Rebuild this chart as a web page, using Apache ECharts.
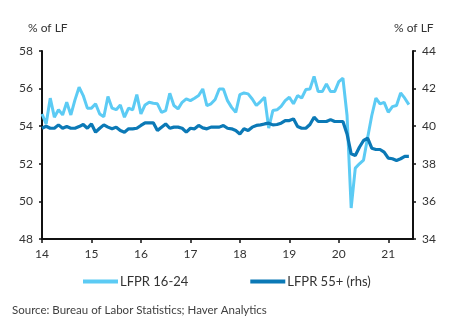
<!DOCTYPE html>
<html>
<head>
<meta charset="utf-8">
<script src="https://cdn.jsdelivr.net/npm/echarts@6/dist/echarts.min.js"></script>
<style>
  html, body { margin: 0; padding: 0; background: #fff; }
  #chart { width: 459px; height: 331px; }
</style>
</head>
<body>
<div id="chart"></div>
<script>
// Monthly labour force participation rates, Jan 2014 onward
const startYear = 14;               // first month = Jan 2014
const yearTicks = [14, 15, 16, 17, 18, 19, 20, 21];
const leftTicks = [48, 50, 52, 54, 56, 58];
const rightTicks = [34, 36, 38, 40, 42, 44];
const seriesNames = ['LFPR 16-24', 'LFPR 55+ (rhs)'];

// LFPR 16-24, % of labour force (left axis)
const lfpr1624 = [
  54.65, 54.12, 55.49, 54.48, 54.88, 54.6, 55.27, 54.6, 55.4, 56.07,
  55.63, 54.96, 54.96, 55.19, 54.65, 54.5, 55.58, 54.96, 54.88, 55.13,
  54.48, 54.96, 54.87, 55.68, 54.65, 55.13, 55.27, 55.22, 55.19, 54.74,
  54.83, 55.75, 55.1, 54.92, 55.27, 55.45, 55.36, 55.49, 55.63, 55.98,
  55.1, 55.19, 55.42, 55.98, 55.98, 55.36, 55.0, 54.74, 55.68, 55.77,
  55.72, 55.45, 55.1, 55.31, 55.54, 53.9, 54.83, 54.87, 55.06, 55.36,
  55.54, 55.19, 55.63, 55.5, 55.95, 55.98, 56.65, 55.84, 55.84, 56.25,
  55.84, 55.84, 56.37, 56.55, 54.57, 49.65, 51.77, 52.0, 52.2, 53.4,
  54.57, 55.49, 55.19, 55.27, 54.74, 55.04, 55.1, 55.77, 55.49, 55.15
];

// LFPR 55+, % of labour force (right axis)
const lfpr55 = [
  39.89, 40.0, 39.89, 39.89, 40.07, 39.89, 39.98, 39.89, 39.89, 39.98,
  40.09, 39.89, 40.12, 39.68, 39.89, 40.07, 39.95, 39.86, 39.95, 39.77,
  39.68, 39.86, 39.86, 39.89, 40.04, 40.18, 40.18, 40.18, 39.77, 39.95,
  40.12, 39.89, 39.95, 39.95, 39.89, 39.68, 39.89, 39.86, 40.04, 39.91,
  39.86, 39.95, 39.95, 39.95, 40.04, 39.89, 39.86, 39.77, 39.59, 39.86,
  39.77, 39.95, 40.04, 40.07, 40.12, 40.16, 40.07, 40.09, 40.16, 40.30,
  40.30, 40.39, 39.98, 39.89, 39.89, 40.09, 40.48, 40.25, 40.25, 40.25,
  40.35, 40.25, 40.25, 40.25, 39.59, 38.53, 38.44, 38.88, 39.24, 39.36,
  38.83, 38.76, 38.76, 38.62, 38.30, 38.27, 38.18, 38.27, 38.39, 38.39
];

// month index -> fractional year on the x axis
const toPoints = arr => arr.map((v, i) => [startYear + i / 12, v]);

const FONT = 'Lato';
const TEXT = '#333';
const AXIS = '#111';
const LIGHT = '#5ccbf4';
const DARK = '#0b79b6';

const chart = echarts.init(document.getElementById('chart'), null, { renderer: 'canvas' });

const yAxisBase = {
  type: 'value',
  interval: 2,
  splitLine: { show: false },
  axisLine: { show: true, lineStyle: { color: AXIS, width: 2 } },
  axisTick: { show: true, length: 3, lineStyle: { color: AXIS, width: 1.5 } },
  axisLabel: { color: TEXT, fontFamily: FONT, fontSize: 12, margin: 9 }
};

chart.setOption({
  animation: false,
  backgroundColor: '#fff',
  grid: { left: 42, right: 46, top: 51, bottom: 92, containLabel: false },
  xAxis: {
    type: 'value',
    min: 14,
    max: 21.5,
    interval: 1,
    splitLine: { show: false },
    axisLine: { show: true, lineStyle: { color: AXIS, width: 2 } },
    axisTick: { show: true, length: 4, customValues: yearTicks, lineStyle: { color: AXIS, width: 1.5 } },
    axisLabel: {
      customValues: yearTicks,
      color: TEXT, fontFamily: FONT, fontSize: 12, margin: 9,
      formatter: v => String(v)
    }
  },
  yAxis: [
    Object.assign({}, yAxisBase, { min: leftTicks[0], max: leftTicks[leftTicks.length - 1], position: 'left' }),
    Object.assign({}, yAxisBase, { min: rightTicks[0], max: rightTicks[rightTicks.length - 1], position: 'right' })
  ],
  legend: {
    data: seriesNames,
    left: 83,
    top: 275,
    padding: 0,
    itemWidth: 35,
    itemHeight: 4,
    itemGap: 62,
    icon: 'rect',
    textStyle: { color: TEXT, fontFamily: FONT, fontSize: 13, padding: [0, 0, 0, -3] }
  },
  graphic: [
    { type: 'text', left: 28, top: 22, style: { text: '% of LF', fill: TEXT, font: '12px Lato' } },
    { type: 'text', left: 394, top: 22, style: { text: '% of LF', fill: TEXT, font: '12px Lato' } },
    { type: 'text', left: 12, top: 304, style: { text: 'Source: Bureau of Labor Statistics; Haver Analytics', fill: '#404040', font: '11.5px Lato' } }
  ],
  series: [
    {
      name: seriesNames[0],
      type: 'line',
      yAxisIndex: 0,
      data: toPoints(lfpr1624),
      showSymbol: false,
      lineStyle: { color: LIGHT, width: 3 },
      itemStyle: { color: LIGHT },
      z: 2
    },
    {
      name: seriesNames[1],
      type: 'line',
      yAxisIndex: 1,
      data: toPoints(lfpr55),
      showSymbol: false,
      lineStyle: { color: DARK, width: 3.2 },
      itemStyle: { color: DARK },
      z: 3
    }
  ]
});
</script>
</body>
</html>
